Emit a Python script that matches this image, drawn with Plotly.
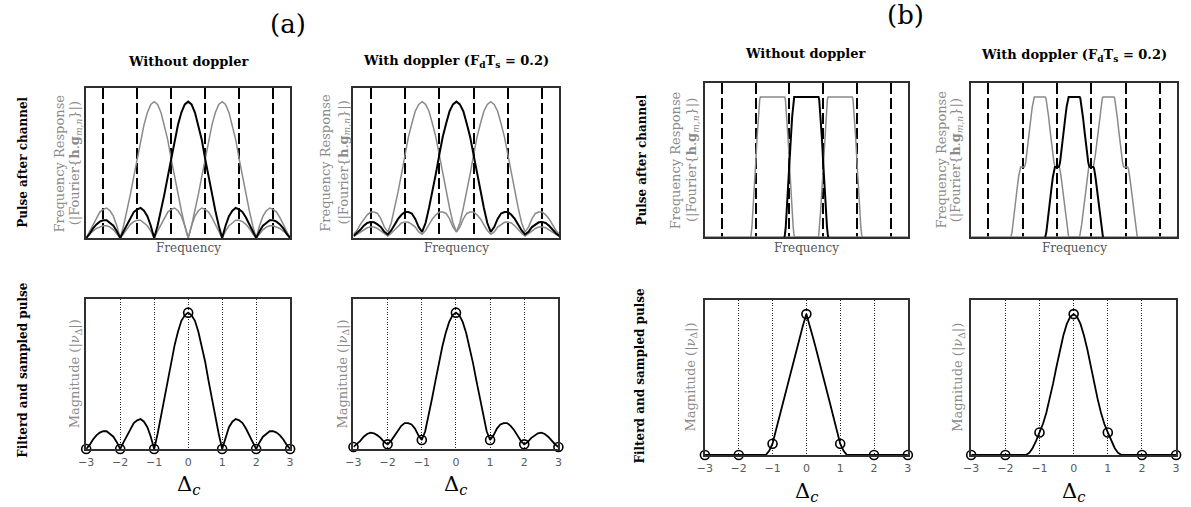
import plotly.graph_objects as go

W, H = 1191, 507

# ---------------- data ----------------
# one-sided frequency grid (in subcarrier spacings), 0 .. 4, step 0.1
grid_f = [round(0.1 * i, 1) for i in range(41)]
# |Fourier{h.g}| of the rectangular pulse, without doppler
spec_a_nodop = [1.00, 0.98, 0.92, 0.83, 0.72, 0.58, 0.45, 0.32, 0.20, 0.09, 0.00,
                0.09, 0.16, 0.20, 0.22, 0.21, 0.19, 0.15, 0.10, 0.05, 0.00,
                0.05, 0.09, 0.11, 0.13, 0.13, 0.12, 0.10, 0.07, 0.03, 0.00,
                0.03, 0.06, 0.08, 0.09, 0.09, 0.08, 0.07, 0.05, 0.03, 0.00]
# same pulse with doppler spread (nulls partly filled)
spec_a_dop = [1.00, 0.98, 0.93, 0.84, 0.74, 0.61, 0.47, 0.34, 0.22, 0.11, 0.045,
              0.08, 0.14, 0.18, 0.19, 0.19, 0.17, 0.14, 0.10, 0.055, 0.027,
              0.045, 0.08, 0.10, 0.115, 0.118, 0.11, 0.09, 0.06, 0.035, 0.015,
              0.03, 0.05, 0.07, 0.08, 0.08, 0.075, 0.06, 0.045, 0.025, 0.01]

# flat-top pulse spectrum, one-sided breakpoints
rc_f = [0.00, 0.36, 0.38, 0.42, 0.46, 0.50, 0.54, 0.58, 0.61, 0.635, 0.65, 4.00]
rc_nodop = [1.00, 1.00, 0.98, 0.86, 0.70, 0.52, 0.34, 0.18, 0.07, 0.015, 0.00, 0.00]
rc_dop_f = [0.00, 0.16, 0.18, 0.22, 0.26, 0.30, 0.34, 0.38, 0.41, 0.435, 0.45,
            0.56, 0.58, 0.62, 0.66, 0.70, 0.74, 0.78, 0.81, 0.835, 0.85, 4.00]
rc_dop = [1.00, 1.00, 0.99, 0.93, 0.85, 0.76, 0.67, 0.59, 0.535, 0.508, 0.50,
          0.50, 0.49, 0.43, 0.35, 0.26, 0.17, 0.09, 0.035, 0.008, 0.00, 0.00]

# one-sided delay grid (Delta_c), 0 .. 3, step 0.1
grid_d = [round(0.1 * i, 1) for i in range(31)]
mag_a_nodop = [1.00, 0.98, 0.94, 0.86, 0.76, 0.64, 0.50, 0.37, 0.23, 0.11, 0.00,
               0.09, 0.16, 0.20, 0.22, 0.21, 0.19, 0.15, 0.10, 0.05, 0.00,
               0.05, 0.09, 0.11, 0.13, 0.13, 0.12, 0.10, 0.07, 0.03, 0.00]
mag_a_dop = [1.00, 0.98, 0.93, 0.85, 0.75, 0.63, 0.50, 0.37, 0.24, 0.13, 0.066,
             0.10, 0.15, 0.18, 0.19, 0.19, 0.17, 0.14, 0.10, 0.06, 0.034,
             0.05, 0.08, 0.10, 0.115, 0.12, 0.11, 0.09, 0.06, 0.035, 0.015]
mag_b_nodop = [1.00, 0.92, 0.83, 0.74, 0.65, 0.555, 0.46, 0.365, 0.27, 0.175, 0.08,
               0.03, 0.00, 0.00, 0.00, 0.00, 0.00, 0.00, 0.00, 0.00, 0.00,
               0.00, 0.00, 0.00, 0.00, 0.00, 0.00, 0.00, 0.00, 0.00, 0.00]
mag_b_dop = [1.00, 0.98, 0.93, 0.85, 0.75, 0.63, 0.51, 0.40, 0.30, 0.22, 0.16,
             0.10, 0.05, 0.015, 0.00, 0.00, 0.00, 0.00, 0.00, 0.00, 0.00,
             0.00, 0.00, 0.00, 0.00, 0.00, 0.00, 0.00, 0.00, 0.00, 0.00]

subcarrier_offsets = [-1, 1, 0]          # neighbours first, wanted subcarrier last
band_edges = [-2.5, -1.5, -0.5, 0.5, 1.5, 2.5]
delta_ticks = [-3, -2, -1, 0, 1, 2, 3]
delta_labels = ["\u22123", "\u22122", "\u22121", "0", "1", "2", "3"]

# ---------------- styling ----------------
SERIF = "DejaVu Serif"
SANS = "DejaVu Sans"
BOX = "#2f2f2f"
GREY = "#8a8a8a"


def mirror(xs, ys):
    return [-x for x in xs[:0:-1]] + list(xs), list(ys[:0:-1]) + list(ys)


def px_x(v):
    return v / W


def px_y(v):
    return 1 - v / H


# panel boxes in pixels: (x0, x1, y0, y1), offsets of the y-title lines,
# and the vertical position of the Delta_c label
panels = [
    dict(box=(79, 285, 88, 238), kind="spec", f=grid_f, v=spec_a_nodop, yt=(-27, -11)),
    dict(box=(349, 557, 88, 238), kind="spec", f=grid_f, v=spec_a_dop, yt=(-29, -10)),
    dict(box=(79, 285, 299, 449), kind="mag", f=grid_d, v=mag_a_nodop, yt=(-11,), dy=485),
    dict(box=(349, 556, 299, 449), kind="mag", f=grid_d, v=mag_a_dop, yt=(-11,), dy=485),
    dict(box=(704, 909, 83, 237), kind="spec", f=rc_f, v=rc_nodop, yt=(-30, -13)),
    dict(box=(973, 1181, 83, 237), kind="spec", f=rc_dop_f, v=rc_dop, yt=(-31, -15)),
    dict(box=(704, 909, 300, 455), kind="mag", f=grid_d, v=mag_b_nodop, yt=(-14,), dy=492),
    dict(box=(973, 1180, 300, 455), kind="mag", f=grid_d, v=mag_b_dop, yt=(-13,), dy=492),
]

fig = go.Figure()
layout = dict(
    width=W, height=H, margin=dict(l=0, r=0, t=0, b=0),
    paper_bgcolor="white", plot_bgcolor="white", showlegend=False,
)
annotations = []

for i, p in enumerate(panels, start=1):
    x0, x1, y0, y1 = p["box"]
    xa, ya = ("x", "y") if i == 1 else (f"x{i}", f"y{i}")
    xs, ys = mirror(p["f"], p["v"])

    if p["kind"] == "spec":
        for off in subcarrier_offsets:
            px, py = [], []
            for x, y in zip(xs, ys):
                xx = round(x + off, 4)
                if -3 <= xx <= 3:
                    px.append(xx)
                    py.append(y)
            fig.add_trace(go.Scatter(
                x=px, y=py, mode="lines", xaxis=xa, yaxis=ya,
                line=dict(color="black" if off == 0 else GREY,
                          width=2 if off == 0 else 1.5),
                hoverinfo="skip", cliponaxis=False))
    else:
        fig.add_trace(go.Scatter(
            x=xs, y=ys, mode="lines", xaxis=xa, yaxis=ya,
            line=dict(color="black", width=1.8), hoverinfo="skip", cliponaxis=False))
        lookup = dict(zip([round(x, 4) for x in xs], ys))
        fig.add_trace(go.Scatter(
            x=delta_ticks, y=[lookup[float(t)] for t in delta_ticks], mode="markers",
            xaxis=xa, yaxis=ya,
            marker=dict(symbol="circle-open", size=9, color="black",
                        line=dict(width=1.6, color="black")),
            hoverinfo="skip", cliponaxis=False))

    xkey = "xaxis" if i == 1 else f"xaxis{i}"
    ykey = "yaxis" if i == 1 else f"yaxis{i}"
    common = dict(showline=True, mirror=True, linecolor=BOX, linewidth=2,
                  zeroline=False, ticks="")
    if p["kind"] == "spec":
        layout[xkey] = dict(common, domain=[px_x(x0), px_x(x1)], range=[-3, 3],
                            anchor=ya, tickvals=band_edges, showticklabels=False,
                            showgrid=True, gridcolor="black", gridwidth=1.6,
                            griddash="11px,4px")
    else:
        layout[xkey] = dict(common, domain=[px_x(x0), px_x(x1)], range=[-3, 3],
                            anchor=ya, tickvals=delta_ticks, ticktext=delta_labels,
                            showticklabels=True, ticklabelstandoff=2,
                            tickfont=dict(family=SANS, size=11, color="#5a5a5a"),
                            showgrid=True, gridcolor="#222222", gridwidth=1.4,
                            griddash="1px,1.5px")
    layout[ykey] = dict(common, domain=[px_y(y1), px_y(y0)], range=[0, 1.1],
                        anchor=xa, showgrid=False, showticklabels=False)

    cx = (x0 + x1) / 2
    cy = (y0 + y1) / 2
    if p["kind"] == "spec":
        lines = ["Frequency Response",
                 "(|Fourier{<b>h</b>.<b>g</b><sub><i>m,n</i></sub>}|)"]
        for dx, text in zip(p["yt"], lines):
            annotations.append(dict(
                x=px_x(x0 + dx), y=px_y(cy), textangle=-90, text=text,
                font=dict(family=SERIF, size=13, color=GREY)))
        annotations.append(dict(
            x=px_x(cx), y=px_y(248), text="Frequency",
            font=dict(family=SERIF, size=12, color="#555555")))
    else:
        annotations.append(dict(
            x=px_x(x0 + p["yt"][0]), y=px_y(cy), textangle=-90,
            text="Magnitude (|<i>\u03bd</i><sub>\u0394</sub>|)",
            font=dict(family=SERIF, size=13, color=GREY)))
        annotations.append(dict(
            x=px_x(cx), y=px_y(p["dy"]),
            text="\u0394<sub><i>c</i></sub>",
            font=dict(family=SERIF, size=21, color="black")))

# panel group labels and column titles
title_nodop = "<b>Without doppler</b>"
title_dop = "<b>With doppler (F<sub>d</sub>T<sub>s</sub> = 0.2)</b>"
for text, x, y, size in [
    ("(a)", 283, 24, 26), ("(b)", 907, 15, 26),
    (title_nodop, 182, 62, 13), (title_dop, 453, 62, 13),
    (title_nodop, 806, 54, 13), (title_dop, 1077, 55, 13),
]:
    annotations.append(dict(x=px_x(x), y=px_y(y), text=text,
                            font=dict(family=SERIF, size=size, color="black")))

for text, x, y in [
    ("<b>Pulse after channel</b>", 15, 162),
    ("<b>Filterd and sampled pulse</b>", 15, 370),
    ("<b>Pulse after channel</b>", 640, 160),
    ("<b>Filterd and sampled pulse</b>", 638, 376),
]:
    annotations.append(dict(x=px_x(x), y=px_y(y), text=text, textangle=-90,
                            font=dict(family=SERIF, size=12, color="black")))

for a in annotations:
    a.update(xref="paper", yref="paper", showarrow=False,
             xanchor="center", yanchor="middle")
layout["annotations"] = annotations

fig.update_layout(**layout)
fig.write_html("out.html")
